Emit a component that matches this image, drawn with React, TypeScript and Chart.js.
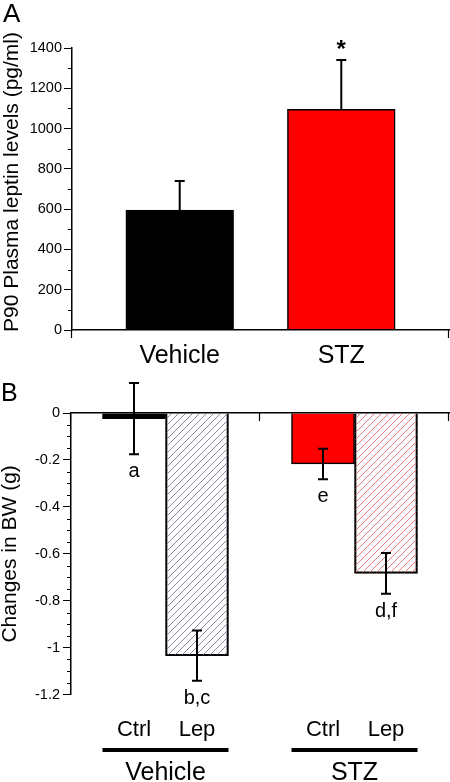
import React, { useEffect, useRef } from 'react';
import { Chart, registerables } from 'chart.js';

Chart.register(...registerables);

// ---------------- Panel A: P90 plasma leptin ----------------
const leptinGroups = ['Vehicle', 'STZ'];
const leptinX = [2, 5];
const leptinMeans = [595, 1095];
const leptinSEM = [145, 245];
const leptinColors = ['#000000', '#ff0000'];
const leptinSignif = ['', '*'];
const leptinXRange = [0, 7];
const leptinYRange = [0, 1400];
const leptinMajorStep = 200;
const leptinMinorStep = 100;
const leptinYTitle = 'P90 Plasma leptin levels (pg/ml)';

// ---------------- Panel B: changes in body weight ----------------
const bwTreatments = ['Ctrl', 'Lep', 'Ctrl', 'Lep'];
const bwX = [1, 2, 4, 5];
const bwMeans = [-0.024, -1.034, -0.217, -0.683];
const bwSEM = [0.152, 0.107, 0.065, 0.087];
const bwLetters = ['a', 'b,c', 'e', 'd,f'];
const bwGroups = ['Vehicle', 'STZ'];
const bwGroupMembers = [[1, 2], [4, 5]];
const bwGroupTicks = [0, 3, 6];
const bwXRange = [0, 6];
const bwYRange = [-1.2, 0];
const bwMajorStep = 0.2;
const bwMinorStep = 0.05;
const bwYTitle = 'Changes in BW (g)';

const FONT = "'Liberation Sans', Arial, Helvetica, sans-serif";
const BLACK = '#000000';
const CLEAR = 'rgba(0,0,0,0)';

function hatch(color: string): CanvasPattern | string {
  const size = 7;
  const c = document.createElement('canvas');
  c.width = size;
  c.height = size;
  const g = c.getContext('2d');
  if (!g) return color;
  g.strokeStyle = color;
  g.lineWidth = 1;
  g.beginPath();
  g.moveTo(0, size);
  g.lineTo(size, 0);
  g.moveTo(-1, 1);
  g.lineTo(1, -1);
  g.moveTo(size - 1, size + 1);
  g.lineTo(size + 1, size - 1);
  g.stroke();
  return g.createPattern(c, 'repeat') || color;
}

function minorTicksPlugin(step: number, major: number, len: number) {
  return {
    id: 'minorTicks',
    afterDraw(chart: any) {
      const s = chart.scales.y;
      const ctx = chart.ctx;
      ctx.save();
      ctx.strokeStyle = BLACK;
      ctx.lineWidth = 1;
      const n = Math.round((s.max - s.min) / step);
      for (let i = 0; i <= n; i++) {
        const v = s.min + i * step;
        const r = v / major;
        if (Math.abs(r - Math.round(r)) < 1e-6) continue;
        const y = Math.round(s.getPixelForValue(v)) + 0.5;
        ctx.beginPath();
        ctx.moveTo(s.right - len, y);
        ctx.lineTo(s.right, y);
        ctx.stroke();
      }
      ctx.restore();
    },
  };
}

// Downward tick marks on the zero line of the x axis, at given x values
function zeroLineTicksPlugin(values: number[], len: number) {
  return {
    id: 'zeroLineTicks',
    afterDraw(chart: any) {
      const xs = chart.scales.x;
      const ys = chart.scales.y;
      const ctx = chart.ctx;
      const y0 = ys.getPixelForValue(0);
      ctx.save();
      ctx.strokeStyle = BLACK;
      ctx.lineWidth = 1.2;
      values.forEach((v) => {
        const x = Math.round(xs.getPixelForValue(v)) - 0.5;
        ctx.beginPath();
        ctx.moveTo(x, y0);
        ctx.lineTo(x, y0 + len);
        ctx.stroke();
      });
      ctx.restore();
    },
  };
}

function panelLetterPlugin(letter: string, x: number, y: number, size: number) {
  return {
    id: 'panelLetter',
    afterDraw(chart: any) {
      const ctx = chart.ctx;
      ctx.save();
      ctx.fillStyle = BLACK;
      ctx.font = `${size}px ${FONT}`;
      ctx.textAlign = 'left';
      ctx.textBaseline = 'alphabetic';
      ctx.fillText(letter, x, y);
      ctx.restore();
    },
  };
}

// Rotated y-axis title drawn at a given centre
function yTitlePlugin(text: string, baselineX: number, centerY: number, size: number) {
  return {
    id: 'yTitle',
    afterDraw(chart: any) {
      const ctx = chart.ctx;
      ctx.save();
      ctx.translate(baselineX, centerY);
      ctx.rotate(-Math.PI / 2);
      ctx.fillStyle = BLACK;
      ctx.font = `${size}px ${FONT}`;
      ctx.textAlign = 'center';
      ctx.textBaseline = 'alphabetic';
      ctx.fillText(text, 0, 0);
      ctx.restore();
    },
  };
}

const fmt = (v: any) => {
  const r = Math.round(Number(v) * 100) / 100;
  return String(r === 0 ? 0 : r);
};

export default function App() {
  const topRef = useRef<HTMLCanvasElement | null>(null);
  const botRef = useRef<HTMLCanvasElement | null>(null);

  useEffect(() => {
    if (!topRef.current || !botRef.current) return;

    // ---------- Panel A ----------
    const leptinErrPlugin = {
      id: 'leptinErr',
      afterDatasetsDraw(chart: any) {
        const meta = chart.getDatasetMeta(0);
        const ys = chart.scales.y;
        const ctx = chart.ctx;
        ctx.save();
        ctx.strokeStyle = BLACK;
        ctx.lineWidth = 2;
        meta.data.forEach((el: any, i: number) => {
          const x = el.x;
          const yBar = ys.getPixelForValue(leptinMeans[i]);
          const yTop = ys.getPixelForValue(leptinMeans[i] + leptinSEM[i]);
          ctx.beginPath();
          ctx.moveTo(x, yBar);
          ctx.lineTo(x, yTop);
          ctx.moveTo(x - 5, yTop);
          ctx.lineTo(x + 5, yTop);
          ctx.stroke();
          if (leptinSignif[i]) {
            ctx.fillStyle = BLACK;
            ctx.font = `bold 24px ${FONT}`;
            ctx.textAlign = 'center';
            ctx.textBaseline = 'alphabetic';
            ctx.fillText(leptinSignif[i], x, yTop - 3);
          }
        });
        ctx.restore();
      },
    };

    const leptinXTicks = [leptinXRange[0], ...leptinX, leptinXRange[1]];

    const top = new Chart(topRef.current, {
      type: 'bar',
      data: {
        datasets: [
          {
            data: leptinX.map((x, i) => ({ x, y: leptinMeans[i] })),
            backgroundColor: leptinColors,
            borderColor: BLACK,
            borderWidth: 1.5,
            categoryPercentage: 1,
            barPercentage: 1,
          } as any,
        ],
      },
      options: {
        animation: false,
        responsive: false,
        devicePixelRatio: 1,
        layout: { padding: { top: 48, right: 1, left: 0, bottom: 0 } },
        plugins: { legend: { display: false }, tooltip: { enabled: false } },
        scales: {
          x: {
            type: 'linear',
            offset: false,
            min: leptinXRange[0],
            max: leptinXRange[1],
            afterBuildTicks: (s: any) => {
              s.ticks = leptinXTicks.map((v) => ({ value: v }));
            },
            afterFit: (s: any) => {
              s.height = 45;
            },
            ticks: {
              autoSkip: false,
              maxRotation: 0,
              padding: 1,
              color: BLACK,
              font: { family: FONT, size: 25 },
              callback: (v: any) => {
                const i = leptinX.indexOf(Number(v));
                return i >= 0 ? leptinGroups[i] : '';
              },
            },
            grid: {
              display: true,
              offset: false,
              drawOnChartArea: false,
              drawTicks: true,
              tickLength: 10,
              color: CLEAR,
            },
            border: { display: true, color: BLACK, width: 1.5, z: 1 },
          },
          y: {
            type: 'linear',
            min: leptinYRange[0],
            max: leptinYRange[1],
            afterFit: (s: any) => {
              s.width = 72;
            },
            ticks: {
              stepSize: leptinMajorStep,
              padding: 2,
              color: BLACK,
              font: { family: FONT, size: 14.5 },
              callback: fmt,
            },
            grid: { drawOnChartArea: false, tickLength: 8, tickWidth: 1, color: BLACK },
            border: { display: true, color: BLACK, width: 1.5 },
          },
        },
      } as any,
      plugins: [
        leptinErrPlugin,
        minorTicksPlugin(leptinMinorStep, leptinMajorStep, 4),
        zeroLineTicksPlugin(leptinXRange, 8),
        panelLetterPlugin('A', 3, 22, 26),
        yTitlePlugin(leptinYTitle, 18, 182, 21),
      ],
    });

    // ---------- Panel B ----------
    const bwColors = [BLACK, hatch('#8a8aaa'), '#ff0000', hatch('#e87c7c')];

    const bwErrPlugin = {
      id: 'bwErr',
      afterDatasetsDraw(chart: any) {
        const meta = chart.getDatasetMeta(0);
        const ys = chart.scales.y;
        const ctx = chart.ctx;
        ctx.save();
        ctx.strokeStyle = BLACK;
        ctx.lineWidth = 2;
        meta.data.forEach((el: any, i: number) => {
          const x = el.x;
          const yTop = ys.getPixelForValue(bwMeans[i] + bwSEM[i]);
          const yBot = ys.getPixelForValue(bwMeans[i] - bwSEM[i]);
          ctx.beginPath();
          ctx.moveTo(x, yTop);
          ctx.lineTo(x, yBot);
          ctx.moveTo(x - 5, yTop);
          ctx.lineTo(x + 5, yTop);
          ctx.moveTo(x - 5, yBot);
          ctx.lineTo(x + 5, yBot);
          ctx.stroke();
          ctx.fillStyle = BLACK;
          ctx.font = `20px ${FONT}`;
          ctx.textAlign = 'center';
          ctx.textBaseline = 'alphabetic';
          ctx.fillText(bwLetters[i], x, yBot + 23);
        });
        ctx.restore();
      },
    };

    const bwGroupPlugin = {
      id: 'bwGroups',
      afterDraw(chart: any) {
        const xs = chart.scales.xl;
        const ctx = chart.ctx;
        ctx.save();
        ctx.fillStyle = BLACK;
        ctx.font = `25px ${FONT}`;
        ctx.textAlign = 'center';
        ctx.textBaseline = 'alphabetic';
        bwGroupMembers.forEach((m, g) => {
          const x0 = xs.getPixelForValue(Math.min(...m) - 0.5);
          const x1 = xs.getPixelForValue(Math.max(...m) + 0.5);
          ctx.fillRect(x0, 373, x1 - x0, 4);
          ctx.fillText(bwGroups[g], (x0 + x1) / 2, 405);
        });
        ctx.restore();
      },
    };

    const bot = new Chart(botRef.current, {
      type: 'bar',
      data: {
        datasets: [
          {
            data: bwX.map((x, i) => ({ x, y: bwMeans[i] })),
            backgroundColor: bwColors,
            borderColor: BLACK,
            borderWidth: 1.5,
            categoryPercentage: 1,
            barPercentage: 1,
            xAxisID: 'x',
            yAxisID: 'y',
          } as any,
        ],
      },
      options: {
        animation: false,
        responsive: false,
        devicePixelRatio: 1,
        layout: { padding: { top: 38, right: 1, left: 0, bottom: 0 } },
        plugins: { legend: { display: false }, tooltip: { enabled: false } },
        scales: {
          x: {
            type: 'linear',
            offset: false,
            position: { y: 0 },
            min: bwXRange[0],
            max: bwXRange[1],
            afterBuildTicks: (s: any) => {
              s.ticks = bwGroupTicks.map((v) => ({ value: v }));
            },
            ticks: { display: false },
            grid: { display: false, drawTicks: false, offset: false },
            border: { display: true, color: BLACK, width: 1.5, z: 1 },
          },
          xl: {
            type: 'linear',
            offset: false,
            position: 'bottom',
            min: bwXRange[0],
            max: bwXRange[1],
            afterBuildTicks: (s: any) => {
              s.ticks = bwX.map((v) => ({ value: v }));
            },
            afterFit: (s: any) => {
              s.height = 87.3;
            },
            ticks: {
              autoSkip: false,
              maxRotation: 0,
              padding: 22,
              color: BLACK,
              font: { family: FONT, size: 22 },
              callback: (v: any) => {
                const i = bwX.indexOf(Number(v));
                return i >= 0 ? bwTreatments[i] : '';
              },
            },
            grid: { display: false, drawTicks: false, offset: false },
            border: { display: false },
          },
          y: {
            type: 'linear',
            min: bwYRange[0],
            max: bwYRange[1],
            afterFit: (s: any) => {
              s.width = 71;
            },
            ticks: {
              stepSize: bwMajorStep,
              padding: 3,
              color: BLACK,
              font: { family: FONT, size: 14.5 },
              callback: fmt,
            },
            grid: { drawOnChartArea: false, tickLength: 8, tickWidth: 1, color: BLACK },
            border: { display: true, color: BLACK, width: 1.5 },
            title: {
              display: true,
              text: bwYTitle,
              color: BLACK,
              font: { family: FONT, size: 21 },
              padding: { top: -2, bottom: 0 },
            },
          },
        },
      } as any,
      plugins: [
        bwErrPlugin,
        bwGroupPlugin,
        minorTicksPlugin(bwMinorStep, bwMajorStep, 4),
        zeroLineTicksPlugin(bwGroupTicks, 8),
        panelLetterPlugin('B', 1, 26, 25),
      ],
    });

    return () => {
      top.destroy();
      bot.destroy();
    };
  }, []);

  return (
    <div
      style={{
        position: 'absolute',
        left: 0,
        top: 0,
        width: 450,
        height: 782,
        background: '#ffffff',
        overflow: 'hidden',
      }}
    >
      <canvas
        ref={topRef}
        width={450}
        height={375}
        style={{ position: 'absolute', left: 0, top: 0, width: 450, height: 375, display: 'block' }}
      />
      <canvas
        ref={botRef}
        width={450}
        height={407}
        style={{ position: 'absolute', left: 0, top: 375, width: 450, height: 407, display: 'block' }}
      />
    </div>
  );
}
